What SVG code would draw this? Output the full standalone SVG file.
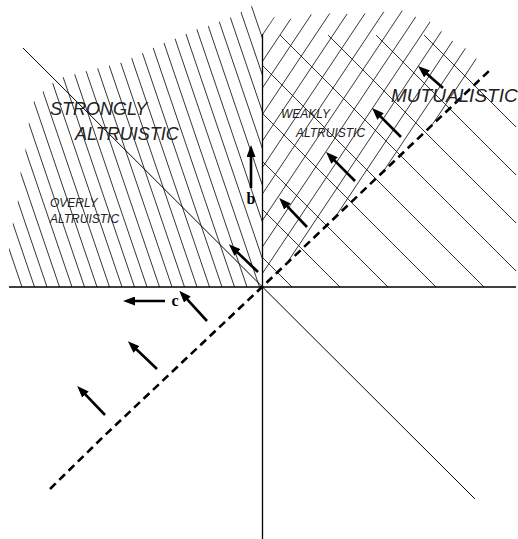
<svg xmlns="http://www.w3.org/2000/svg" width="518" height="539" viewBox="0 0 518 539">
<defs>
<style>
.hatch{stroke:#000;stroke-width:0.8;fill:none}
.axis{stroke:#000;stroke-width:1.3;fill:none}
.diag{stroke:#000;stroke-width:1;fill:none}
.dash{stroke:#000;stroke-width:2.6;stroke-dasharray:8 5;fill:none}
.arrow{stroke:#000;stroke-width:2.6;fill:none;marker-end:url(#ah)}
.region{font-family:"Liberation Sans",Arial,sans-serif;font-style:italic;fill:#222}
.lbl{font-family:"Liberation Serif","Times New Roman",serif;font-weight:bold;font-size:16px;fill:#000}
</style>
<marker id="ah" markerUnits="userSpaceOnUse" markerWidth="12" markerHeight="9" refX="4" refY="4.5" orient="auto"><path d="M0,0 L12,4.5 L0,9 z" fill="#000"/></marker>
<clipPath id="clipL"><polygon points="9,247 13,222 18,200 20,175 25,153 28,128 32,104 40,94 50,85 60,78 72,75 83,72 95,69 108,66 120,63 132,58 143,53 155,47 166,42 177,38 188,33 200,28 212,25 223,20 235,16 247,8 262,2 262,287 9,287"/></clipPath>
<clipPath id="clipR"><polygon points="262,287 262,34 274,17 290,19 307,15 323,13 340,14 358,14 382,12 401,10 413,16 428,20 440,30 451,40 465,48 478,60 490,70"/></clipPath>
</defs>
<g id="hatch-left" class="hatch" clip-path="url(#clipL)">
<path d="M-77.3,-5L22,287M-64.8,-5L34.5,287M-52.3,-5L47,287M-39.8,-5L59.5,287M-27.3,-5L72,287M-14.8,-5L84.5,287M-2.3,-5L97,287M10.2,-5L109.5,287M22.7,-5L122,287M35.2,-5L134.5,287M47.7,-5L147,287M60.2,-5L159.5,287M72.7,-5L172,287M85.2,-5L184.5,287M97.7,-5L197,287M110.2,-5L209.5,287M122.7,-5L222,287M135.2,-5L234.5,287M147.7,-5L247,287M160.2,-5L259.5,287M172.7,-5L272,287M185.2,-5L284.5,287M197.7,-5L297,287M210.2,-5L309.5,287M222.7,-5L322,287M235.2,-5L334.5,287M247.7,-5L347,287M260.2,-5L359.5,287"/>
</g>
<g id="hatch-right-up" class="hatch" clip-path="url(#clipR)">
<path d="M262,35.5L289,-5M262,62L306.7,-5M262,88.5L324.3,-5M262,115L342,-5M262,141.5L359.7,-5M262,168L377.3,-5M262,194.5L395,-5M262,221L412.7,-5M262,247.5L430.3,-5M262,274L448,-5M262,300.5L465.7,-5M262,327L483.3,-5M262,353.5L501,-5M262,380L518.7,-5"/>
</g>
<g id="hatch-right-down" class="hatch">
<path d="M262,257L292,287M262,209L340,287M262,161L388,287M262,113L436,287M262,65L484,287M280,35L516,271M328,35L516,223M376,35L516,175M424,35L516,127"/>
</g>
<g id="axes">
<line class="axis" x1="9" y1="287" x2="516" y2="287"/>
<line class="axis" x1="262.5" y1="34" x2="262.5" y2="539"/>
<line class="diag" x1="23" y1="48" x2="475" y2="499"/>
<polyline class="dash" points="50,489 103,437 262,287 490,70"/>
</g>
<g id="connectors">
<line class="arrow" x1="443" y1="88" x2="424" y2="71.3"/>
<line class="arrow" x1="401" y1="137" x2="377.7" y2="113.7"/>
<line class="arrow" x1="355" y1="181" x2="331.7" y2="157.7"/>
<line class="arrow" x1="307" y1="227" x2="284.7" y2="203.7"/>
<line class="arrow" x1="258" y1="272" x2="234.7" y2="249.7"/>
<line class="arrow" x1="251" y1="188" x2="251" y2="153"/>
<line class="arrow" x1="165" y1="301" x2="131" y2="301"/>
<line class="arrow" x1="207" y1="321" x2="184.7" y2="296.7"/>
<line class="arrow" x1="157" y1="369" x2="133.7" y2="346.7"/>
<line class="arrow" x1="105" y1="415" x2="82.7" y2="391.7"/>
</g>
<g id="strongly-altruistic" class="region" font-size="18">
<text x="50" y="115">STRONGLY</text>
<text x="75" y="140">ALTRUISTIC</text>
</g>
<g id="overly-altruistic" class="region" font-size="12">
<text x="50" y="207">OVERLY</text>
<text x="50" y="223">ALTRUISTIC</text>
</g>
<g id="weakly-altruistic" class="region" font-size="12">
<text x="281" y="118">WEAKLY</text>
<text x="296" y="137">ALTRUISTIC</text>
</g>
<g id="mutualistic" class="region" font-size="19">
<text x="391" y="102">MUTUALISTIC</text>
</g>
<g id="label-b"><text class="lbl" x="251" y="204" text-anchor="middle">b</text></g>
<g id="label-c"><text class="lbl" x="175" y="306" text-anchor="middle">c</text></g>
</svg>
